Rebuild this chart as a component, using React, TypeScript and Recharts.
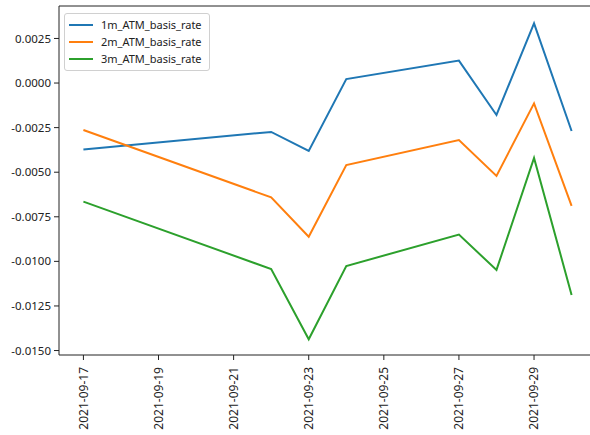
import React from 'react';
import { LineChart, Line, XAxis, YAxis, ReferenceLine } from 'recharts';

const dates = ['2021-09-17', '2021-09-22', '2021-09-23', '2021-09-24', '2021-09-27', '2021-09-28', '2021-09-29', '2021-09-30'];
const rate1m = [-0.00372, -0.00274, -0.00381, 0.00022, 0.00126, -0.00179, 0.00335, -0.00269];
const rate2m = [-0.00263, -0.00641, -0.00862, -0.0046, -0.0032, -0.00521, -0.00114, -0.00689];
const rate3m = [-0.00665, -0.01043, -0.01437, -0.01026, -0.0085, -0.01048, -0.0042, -0.01188];

const xTickDates = ['2021-09-17', '2021-09-19', '2021-09-21', '2021-09-23', '2021-09-25', '2021-09-27', '2021-09-29'];
const yTicks = [-0.015, -0.0125, -0.01, -0.0075, -0.005, -0.0025, 0, 0.0025];

const seriesNames = ['1m_ATM_basis_rate', '2m_ATM_basis_rate', '3m_ATM_basis_rate'];
const colors = ['#1f77b4', '#ff7f0e', '#2ca02c'];

const FONT = '"Noto Sans", "Open Sans", sans-serif';
const INK = '#222';
const Y_TOP = 0.00432;

// days since the first date, so the x axis is a real time scale
const dayOf = (d: string) => (Date.parse(d) - Date.parse(dates[0])) / 86400000;
const labelOf = (day: number) => {
  const t = new Date(Date.parse(dates[0]) + day * 86400000);
  return t.toISOString().slice(0, 10);
};

const data = dates.map((d, i) => ({
  day: dayOf(d),
  r1: rate1m[i],
  r2: rate2m[i],
  r3: rate3m[i],
}));

function XTick(props: any) {
  const { x, y, payload } = props;
  const ty = y + 5;
  return (
    <text
      x={x}
      y={ty}
      transform={`rotate(-90, ${x}, ${ty})`}
      textAnchor="end"
      dy="0.35em"
      fontSize={12}
      fontFamily={FONT}
      fill={INK}
    >
      {labelOf(payload.value)}
    </text>
  );
}

export default function App() {
  return (
    <div style={{ position: 'absolute', left: 0, top: 0, width: 590, height: 435, overflow: 'hidden', background: '#fff' }}>
      <LineChart width={600} height={435} data={data} margin={{ top: 6, right: 4, bottom: 0, left: 0 }}>
        <XAxis
          type="number"
          dataKey="day"
          domain={[-0.65, 13.65]}
          ticks={xTickDates.map(dayOf)}
          interval={0}
          allowDataOverflow
          height={80}
          tickSize={5}
          tickMargin={2}
          stroke={INK}
          tick={<XTick />}
        />
        <YAxis
          type="number"
          domain={[-0.01525, Y_TOP]}
          ticks={yTicks}
          interval={0}
          allowDataOverflow
          width={59}
          tickSize={5}
          tickMargin={3}
          stroke={INK}
          tickFormatter={(v: number) => v.toFixed(4)}
          tick={{ fontSize: 11.5, fontFamily: FONT, fill: INK }}
        />
        <ReferenceLine y={Y_TOP} stroke={INK} ifOverflow="extendDomain" />
        <Line type="linear" dataKey="r1" stroke={colors[0]} strokeWidth={2} dot={false} isAnimationActive={false} />
        <Line type="linear" dataKey="r2" stroke={colors[1]} strokeWidth={2} dot={false} isAnimationActive={false} />
        <Line type="linear" dataKey="r3" stroke={colors[2]} strokeWidth={2} dot={false} isAnimationActive={false} />
      </LineChart>
      <div
        style={{
          position: 'absolute',
          left: 64,
          top: 13,
          width: 144,
          padding: '3px 0',
          border: '1px solid #d0d0d0',
          borderRadius: 3,
          background: 'rgba(255,255,255,0.8)',
          fontFamily: FONT,
          fontSize: 11,
          color: INK,
        }}
      >
        {seriesNames.map((name, i) => (
          <div key={name} style={{ display: 'flex', alignItems: 'center', height: 16.7 }}>
            <span style={{ display: 'inline-block', marginLeft: 4, width: 24, height: 2, background: colors[i] }} />
            <span style={{ marginLeft: 8, lineHeight: '16px' }}>{name}</span>
          </div>
        ))}
      </div>
    </div>
  );
}
